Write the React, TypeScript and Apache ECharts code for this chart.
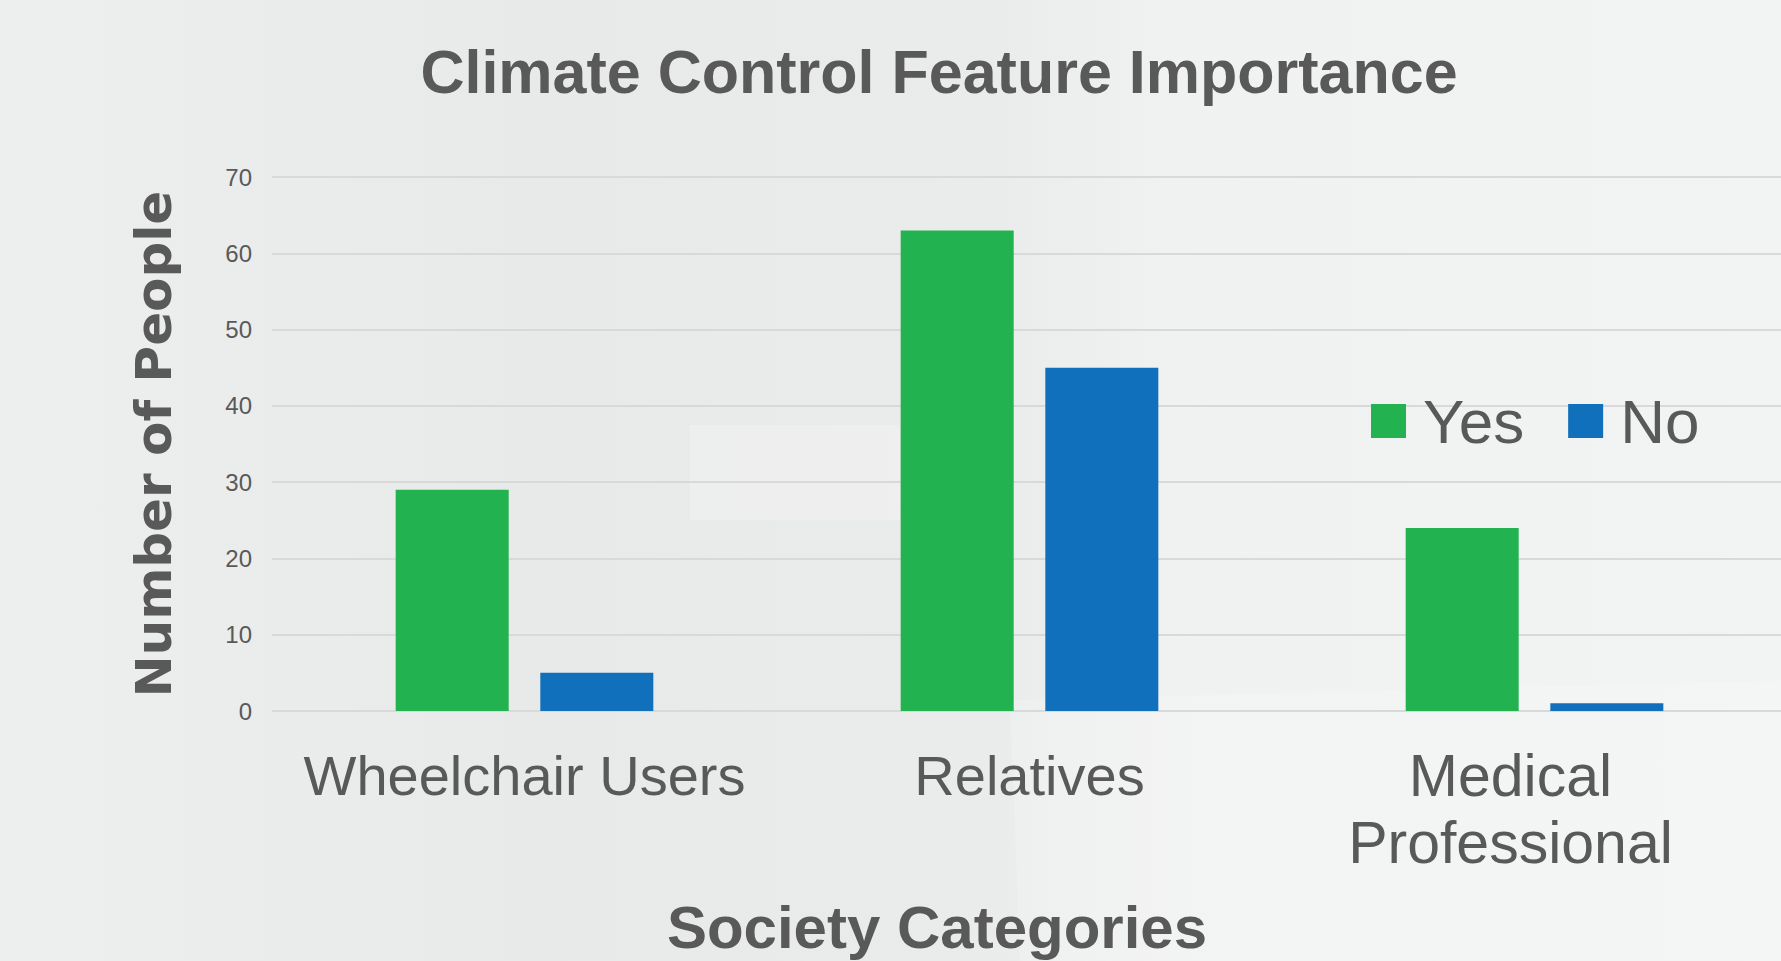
import React, { useEffect, useRef } from "react";
import * as echarts from "echarts";

const categories = ["Wheelchair Users", "Relatives", "Medical\nProfessional"];
const yesValues = [29, 63, 24];
const noValues = [5, 45, 1];
const seriesNames = ["Yes", "No"];
const yTicks = { min: 0, max: 70, interval: 10 };

const TEXT = "#595959";
const GREEN = "#22B250";
const BLUE = "#1170BB";

export default function App() {
  const ref = useRef<HTMLDivElement>(null);
  useEffect(() => {
    if (!ref.current) return;
    const chart = echarts.init(ref.current, undefined, { renderer: "svg" });
    const option: any = {
      animation: false,
      backgroundColor: {
        type: "linear",
        x: 0,
        y: 0,
        x2: 1,
        y2: 0,
        colorStops: [
          { offset: 0, color: "#EDEEEE" },
          { offset: 0.3, color: "#E8E9E9" },
          { offset: 0.55, color: "#EAEBEB" },
          { offset: 0.65, color: "#F0F1F1" },
          { offset: 1, color: "#F2F3F3" },
        ],
      },
      graphic: [
        {
          type: "rect",
          z: -10,
          silent: true,
          shape: { x: 690, y: 425, width: 210, height: 95 },
          style: { fill: "rgba(255,255,255,0.22)" },
        },
        {
          type: "polygon",
          z: -10,
          silent: true,
          shape: { points: [[1010, 700], [1800, 680], [1800, 961], [1020, 961]] },
          style: { fill: "rgba(255,255,255,0.18)" },
        },
        {
          type: "text",
          x: 939,
          y: 72,
          style: {
            text: "Climate Control Feature Importance",
            font: "bold 61px 'Liberation Sans', Arial, sans-serif",
            fill: TEXT,
            textAlign: "center",
            textVerticalAlign: "middle",
          },
        },
        {
          type: "text",
          x: 937,
          y: 927,
          style: {
            text: "Society Categories",
            font: "bold 60px 'Liberation Sans', Arial, sans-serif",
            fill: TEXT,
            textAlign: "center",
            textVerticalAlign: "middle",
          },
        },
      ],
      legend: {
        data: seriesNames,
        left: 1366,
        top: 385,
        itemWidth: 35,
        itemHeight: 34,
        itemGap: 44,
        icon: "rect",
        textStyle: {
          fontSize: 62,
          color: TEXT,
          fontFamily: "'Liberation Sans', Arial, sans-serif",
          padding: [0, 0, 0, 12],
        },
      },
      grid: { left: 272, top: 177, width: 1515, height: 534, containLabel: false },
      xAxis: {
        type: "category",
        data: categories.map((c, i) =>
          i === 2
            ? { value: c, textStyle: { fontSize: 59, lineHeight: 67, padding: [0, 48, 0, 0] } }
            : c
        ),
        axisLine: { show: false },
        axisTick: { show: false },
        axisLabel: {
          interval: 0,
          fontSize: 56,
          lineHeight: 67,
          margin: 31,
          color: TEXT,
          fontFamily: "'Liberation Sans', Arial, sans-serif",
        },
      },
      yAxis: {
        type: "value",
        min: yTicks.min,
        max: yTicks.max,
        interval: yTicks.interval,
        name: "Number of People",
        nameLocation: "middle",
        nameGap: 93,
        nameTextStyle: {
          fontSize: 50,
          fontWeight: "bold",
          color: TEXT,
          fontFamily: "'DejaVu Sans', Verdana, sans-serif",
        },
        axisLine: { show: false },
        axisTick: { show: false },
        axisLabel: {
          fontSize: 24,
          margin: 20,
          color: TEXT,
          fontFamily: "'Liberation Sans', Arial, sans-serif",
        },
        splitLine: { lineStyle: { color: "#D9D9D9", width: 2 } },
      },
      series: [
        {
          name: seriesNames[0],
          type: "bar",
          data: yesValues,
          barWidth: 113,
          barGap: "28%",
          itemStyle: { color: GREEN },
        },
        {
          name: seriesNames[1],
          type: "bar",
          data: noValues,
          barWidth: 113,
          barGap: "28%",
          itemStyle: { color: BLUE },
        },
      ],
    };
    chart.setOption(option);
    return () => chart.dispose();
  }, []);
  return (
    <div
      style={{
        position: "fixed",
        left: 0,
        top: 0,
        width: 1781,
        height: 961,
        overflow: "hidden",
      }}
    >
      <div ref={ref} style={{ width: 1800, height: 961 }} />
    </div>
  );
}
